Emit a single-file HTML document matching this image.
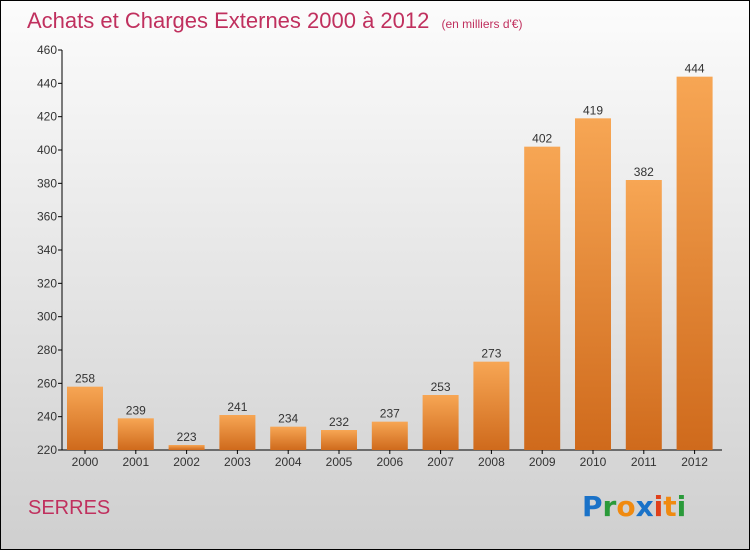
<!DOCTYPE html>
<html><head><meta charset="utf-8"><style>
html,body{margin:0;padding:0}
body{width:750px;height:550px;overflow:hidden;font-family:"Liberation Sans",sans-serif}
</style></head><body>
<svg id="chart" width="750" height="550" xmlns="http://www.w3.org/2000/svg">
<defs>
<linearGradient id="bg" x1="0" y1="0" x2="0" y2="1"><stop offset="0" stop-color="#fcfcfc"/><stop offset="1" stop-color="#cfcfcf"/></linearGradient>
<linearGradient id="bar" x1="0" y1="0" x2="0" y2="1"><stop offset="0" stop-color="#f7a654"/><stop offset="1" stop-color="#cf6a1c"/></linearGradient>
</defs>
<rect x="0.5" y="0.5" width="749" height="549" fill="url(#bg)" stroke="#000"/>
<text x="27" y="28" font-size="22" fill="#c0305e">Achats et Charges Externes 2000 à 2012 <tspan font-size="12" dx="6">(en milliers d'€)</tspan></text>
<text x="28" y="514" font-size="20" fill="#c0305e">SERRES</text>
<g font-size="28" font-weight="bold" font-family="'DejaVu Sans',sans-serif">
<text x="582" y="516"><tspan fill="#1a72c8">P</tspan><tspan fill="#2a9a3a">r</tspan><tspan fill="#f08a10">o</tspan><tspan fill="#1a72c8">x</tspan><tspan fill="#e0401a">i</tspan><tspan fill="#f08a10">t</tspan><tspan fill="#2a9a3a">i</tspan></text>
</g>
<g id="axes"></g><g id="bars"></g>
</svg>
<script>
const categories=["2000","2001","2002","2003","2004","2005","2006","2007","2008","2009","2010","2011","2012"];
const values=[258,239,223,241,234,232,237,253,273,402,419,382,444];
const ticks=[220,240,260,280,300,320,340,360,380,400,420,440,460];
const NS="http://www.w3.org/2000/svg";
const y0=450,y1=50,vmin=220,vmax=460,xl=62,step=50.8,bw=36;
const y=v=>y0-(v-vmin)*(y0-y1)/(vmax-vmin);
const xc=i=>85+i*step;
function mk(t,a,p){const e=document.createElementNS(NS,t);for(const k in a)e.setAttribute(k,a[k]);p.appendChild(e);return e;}
const ax=document.getElementById('axes'),bs=document.getElementById('bars');
const yl=mk('line',{x1:xl,y1:y1,x2:xl,y2:y0,stroke:'#000'},ax);


const xa=mk('line',{x1:xl,y1:y0,x2:722,y2:y0,stroke:'#000'},ax);


ticks.forEach(t=>{
 const tk=mk('line',{x1:xl-4,y1:y(t),x2:xl,y2:y(t),stroke:'#000'},ax);
 
 
 const tl=mk('text',{x:xl-5,y:y(t)+4,'font-size':12,'text-anchor':'end',fill:'#333'},ax);
 
 
 tl.textContent=t;
});
categories.forEach((c,i)=>{
 const v=values[i];
 const r=mk('rect',{x:xc(i)-bw/2,y:y(v),width:bw,height:y0-y(v),fill:'url(#bar)'},bs);
 
 
 const vl=mk('text',{x:xc(i),y:y(v)-4,'font-size':12,'text-anchor':'middle',fill:'#333'},bs);
 
 
 vl.textContent=v;
 const tk=mk('line',{x1:xc(i),y1:y0,x2:xc(i),y2:y0+4,stroke:'#000'},ax);
 
 
 const xl2=mk('text',{x:xc(i),y:y0+16,'font-size':12,'text-anchor':'middle',fill:'#333'},ax);
 
 
 xl2.textContent=c;
});
</script>
</body></html>
